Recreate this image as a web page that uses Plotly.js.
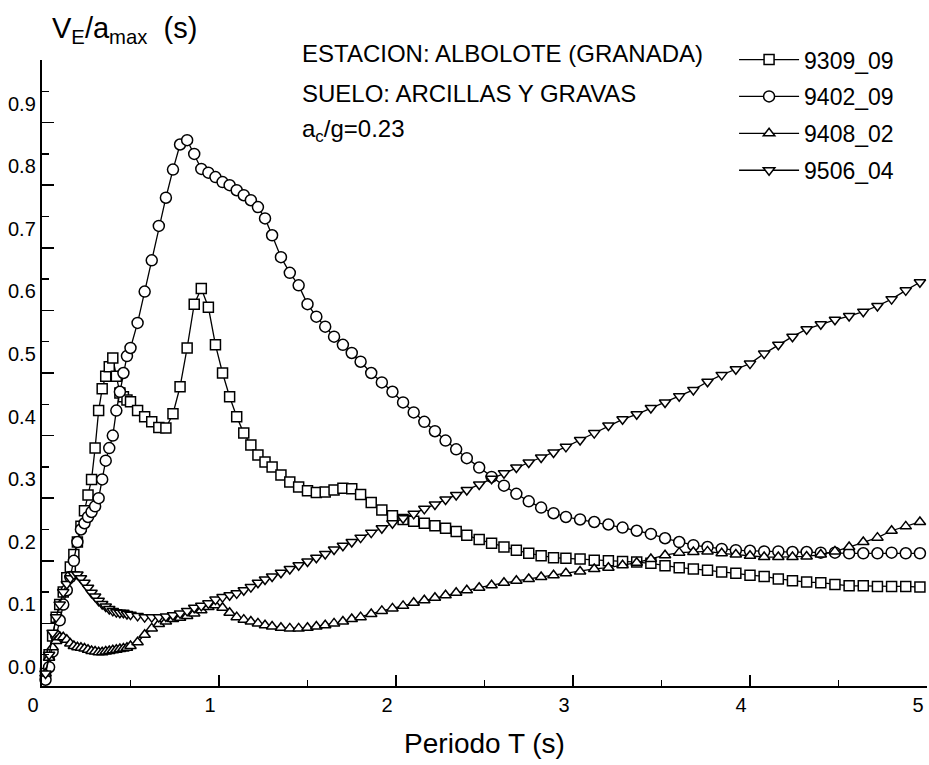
<!DOCTYPE html>
<html>
<head>
<meta charset="utf-8">
<script src="https://cdn.plot.ly/plotly-3.0.1.min.js"></script>
<style>
  html, body { margin: 0; padding: 0; background: #ffffff; }
  #chart { width: 929px; height: 765px; }
</style>
</head>
<body>
<div id="chart"></div>
<script>
// Periodo T (s)
const periods = [
  0.02,0.04,0.06,0.08,0.10,0.12,0.14,0.16,0.18,0.20,
  0.22,0.24,0.26,0.28,0.30,0.32,0.34,0.36,0.38,0.40,
  0.42,0.44,0.46,0.48,0.50,
  0.54,0.58,0.62,0.66,0.70,0.74,0.78,0.82,0.86,0.90,
  0.94,0.98,1.02,1.06,1.10,1.14,1.18,1.22,1.26,1.30,
  1.35,1.40,1.45,1.50,1.55,1.60,1.65,1.70,1.75,1.80,
  1.86,1.92,1.98,2.04,2.10,2.16,2.22,2.28,2.34,2.40,
  2.47,2.54,2.61,2.68,2.75,2.82,2.89,2.96,
  3.04,3.12,3.20,3.28,3.36,3.44,3.52,3.60,3.68,3.76,
  3.84,3.92,4.00,4.08,4.16,4.24,4.32,4.40,4.48,4.56,
  4.64,4.72,4.80,4.88,4.96
];

// VE/amax (s) for each record
const rec9309_09 = [
  0.02,0.05,0.08,0.11,0.13,0.15,0.173,0.19,0.21,0.23,
  0.255,0.28,0.305,0.33,0.38,0.44,0.475,0.495,0.51,0.524,
  0.495,0.468,0.462,0.457,0.454,
  0.44,0.43,0.422,0.413,0.412,0.435,0.478,0.54,0.61,0.635,
  0.605,0.545,0.50,0.462,0.43,0.404,0.385,0.369,0.358,0.35,
  0.337,0.326,0.318,0.312,0.309,0.31,0.313,0.316,0.315,0.306,
  0.293,0.281,0.272,0.266,0.263,0.26,0.256,0.252,0.247,0.241,
  0.234,0.228,0.222,0.217,0.212,0.208,0.205,0.204,
  0.203,0.201,0.2,0.199,0.198,0.196,0.192,0.189,0.187,0.185,
  0.182,0.18,0.177,0.175,0.171,0.168,0.166,0.165,0.162,0.16,
  0.16,0.159,0.159,0.159,0.158
];

const rec9402_09 = [
  0.01,0.03,0.055,0.08,0.105,0.13,0.153,0.174,0.2,0.23,
  0.25,0.26,0.27,0.278,0.287,0.30,0.33,0.36,0.38,0.40,
  0.44,0.47,0.50,0.527,0.54,
  0.58,0.63,0.68,0.735,0.78,0.825,0.865,0.872,0.85,0.826,
  0.82,0.813,0.805,0.80,0.792,0.784,0.776,0.765,0.747,0.72,
  0.685,0.66,0.64,0.61,0.59,0.574,0.558,0.545,0.532,0.518,
  0.50,0.485,0.47,0.453,0.437,0.422,0.407,0.392,0.378,0.364,
  0.349,0.334,0.32,0.307,0.295,0.285,0.276,0.27,
  0.266,0.262,0.258,0.253,0.248,0.243,0.236,0.23,0.225,0.222,
  0.219,0.217,0.216,0.215,0.215,0.214,0.214,0.213,0.213,0.212,
  0.212,0.212,0.213,0.212,0.212
];

const rec9408_02 = [
  0.02,0.045,0.062,0.072,0.078,0.078,0.074,0.068,0.064,0.062,
  0.061,0.06,0.058,0.056,0.055,0.054,0.054,0.055,0.056,0.057,
  0.058,0.059,0.06,0.061,0.064,
  0.07,0.082,0.092,0.099,0.103,0.107,0.109,0.112,0.116,0.121,
  0.126,0.129,0.125,0.117,0.11,0.106,0.103,0.10,0.097,0.095,
  0.093,0.092,0.092,0.093,0.095,0.097,0.1,0.103,0.107,0.11,
  0.115,0.12,0.124,0.128,0.133,0.137,0.141,0.145,0.149,0.153,
  0.157,0.161,0.165,0.168,0.171,0.174,0.177,0.18,
  0.183,0.187,0.189,0.193,0.197,0.203,0.209,0.213,0.214,0.215,
  0.212,0.21,0.208,0.206,0.206,0.206,0.207,0.21,0.215,0.222,
  0.23,0.237,0.248,0.255,0.262
];

const rec9506_04 = [
  0.02,0.05,0.085,0.11,0.13,0.15,0.163,0.172,0.178,0.178,
  0.172,0.165,0.157,0.149,0.143,0.136,0.131,0.127,0.123,0.12,
  0.118,0.117,0.117,0.115,0.114,
  0.112,0.11,0.11,0.11,0.111,0.113,0.116,0.12,0.125,0.128,
  0.132,0.138,0.142,0.145,0.148,0.153,0.158,0.165,0.17,0.175,
  0.181,0.187,0.193,0.199,0.205,0.211,0.218,0.224,0.23,0.237,
  0.245,0.252,0.26,0.268,0.275,0.283,0.29,0.298,0.305,0.313,
  0.322,0.331,0.34,0.349,0.357,0.365,0.373,0.382,
  0.393,0.404,0.416,0.426,0.434,0.444,0.453,0.463,0.473,0.486,
  0.497,0.506,0.515,0.531,0.545,0.558,0.57,0.578,0.585,0.591,
  0.598,0.607,0.618,0.632,0.645
];

const recordNames = ['9309_09', '9402_09', '9408_02', '9506_04'];
const recordValues = [rec9309_09, rec9402_09, rec9408_02, rec9506_04];
const recordSymbols = ['square', 'circle', 'triangle-up', 'triangle-down'];

const yTickVals = [0, 0.1, 0.2, 0.3, 0.4, 0.5, 0.6, 0.7, 0.8, 0.9];
const xTickVals = [0, 1, 2, 3, 4, 5];

const FONT = '"Liberation Sans", Arial, Helvetica, sans-serif';

const traces = recordNames.map((name, i) => ({
  x: periods,
  y: recordValues[i],
  name: name,
  legendgroup: name,
  type: 'scatter',
  mode: 'lines+markers',
  cliponaxis: false,
  line: { color: '#000000', width: 1.3 },
  marker: {
    symbol: recordSymbols[i],
    size: recordSymbols[i] === 'circle' ? 11 : 10,
    color: '#ffffff',
    line: { color: '#000000', width: 1.5 }
  }
}));

const layout = {
  width: 929,
  height: 765,
  margin: { l: 42, r: 2, t: 60, b: 79, pad: 0 },
  paper_bgcolor: '#ffffff',
  plot_bgcolor: '#ffffff',
  font: { family: FONT, color: '#000000', size: 20 },
  showlegend: true,
  legend: {
    x: 0.782, xanchor: 'left',
    y: 1.035, yanchor: 'top',
    bgcolor: 'rgba(0,0,0,0)',
    font: { family: FONT, size: 23, color: '#000000' },
    tracegroupgap: 4,
    itemwidth: 60
  },
  xaxis: {
    range: [0, 5],
    tickvals: xTickVals,
    ticktext: xTickVals.map(String),
    ticks: 'inside',
    ticklen: 11,
    tickwidth: 1.6,
    tickcolor: '#000000',
    ticklabelshift: -9,
    minor: { dtick: 0.5, ticks: 'inside', ticklen: 6, tickwidth: 1.4, tickcolor: '#000000' },
    showline: true,
    linecolor: '#000000',
    linewidth: 2.2,
    showgrid: false,
    zeroline: false,
    tickfont: { family: FONT, size: 20, color: '#000000' },
    title: { text: 'Periodo T (s)', font: { family: FONT, size: 28, color: '#000000' }, standoff: 18 }
  },
  yaxis: {
    range: [0, 1],
    tickvals: yTickVals,
    ticktext: yTickVals.map(v => v.toFixed(1)),
    ticks: 'inside',
    ticklen: 12,
    tickwidth: 1.6,
    tickcolor: '#000000',
    ticklabelshift: -19,
    minor: { dtick: 0.05, ticks: 'inside', ticklen: 7, tickwidth: 1.4, tickcolor: '#000000' },
    showline: true,
    linecolor: '#000000',
    linewidth: 2.2,
    showgrid: false,
    zeroline: false,
    tickfont: { family: FONT, size: 20, color: '#000000' }
  },
  annotations: [
    {
      xref: 'paper', yref: 'paper', x: 0.009, y: 1.048,
      xanchor: 'left', yanchor: 'middle', showarrow: false,
      text: 'V<sub>E</sub>/a<sub>max</sub>\u00a0\u00a0(s)',
      font: { family: FONT, size: 29, color: '#000000' }
    },
    {
      xref: 'paper', yref: 'paper', x: 0.2915, y: 1.011,
      xanchor: 'left', yanchor: 'middle', showarrow: false,
      text: 'ESTACION: ALBOLOTE (GRANADA)',
      font: { family: FONT, size: 24, color: '#000000' }
    },
    {
      xref: 'paper', yref: 'paper', x: 0.2915, y: 0.947,
      xanchor: 'left', yanchor: 'middle', showarrow: false,
      text: 'SUELO: ARCILLAS Y GRAVAS',
      font: { family: FONT, size: 24, color: '#000000' }
    },
    {
      xref: 'paper', yref: 'paper', x: 0.2915, y: 0.888,
      xanchor: 'left', yanchor: 'middle', showarrow: false,
      text: 'a<sub>c</sub>/g=0.23',
      font: { family: FONT, size: 24, color: '#000000' }
    }
  ]
};

Plotly.newPlot('chart', traces, layout, { staticPlot: true, displayModeBar: false });
</script>
</body>
</html>
